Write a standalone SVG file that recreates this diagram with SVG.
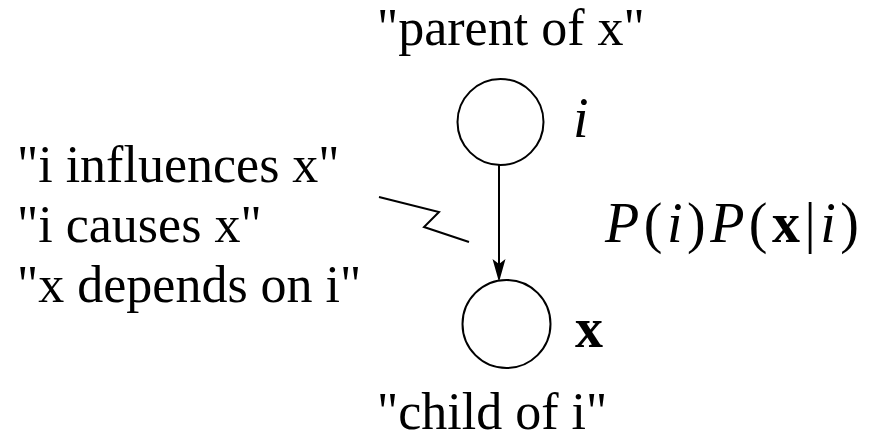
<svg xmlns="http://www.w3.org/2000/svg" width="872" height="441" viewBox="0 0 872 441">
<style>
.t{font-family:"Liberation Serif","Times New Roman",serif;font-size:52px;fill:#000}
.m{font-family:"Liberation Serif","Times New Roman",serif;font-size:56px;fill:#000;font-style:italic}
.b{font-style:normal;font-weight:bold}
.r{font-style:normal}
.node{fill:#fff;stroke:#000;stroke-width:2}
.edge{fill:none;stroke:#000;stroke-width:2}
</style>
<rect width="872" height="441" fill="#fff"/>
<g id="connectors">
<line class="edge" x1="499" y1="165" x2="499" y2="264"/>
<path d="M499,282 L492.5,259 L499,264 L505.5,259 Z" fill="#000"/>
<polyline class="edge" points="379,197 439,212 424,227 469,242"/>
</g>
<g id="node-i">
<circle class="node" cx="500.5" cy="122" r="43"/>
<text class="m" x="573" y="137">i</text>
</g>
<g id="node-x">
<circle class="node" cx="506.5" cy="324" r="44"/>
<text class="m b" x="575" y="347">x</text>
</g>
<g id="labels">
<text class="t" x="377" y="45">"parent of x"</text>
<text class="t" x="377" y="429">"child of i"</text>
<text class="t" x="17" y="182">"i influences x"</text>
<text class="t" x="17" y="242">"i causes x"</text>
<text class="t" x="17" y="302">"x depends on i"</text>
<text class="m" x="605" y="242" textLength="254" lengthAdjust="spacing">P<tspan class="r">(</tspan>i<tspan class="r">)</tspan>P<tspan class="r">(</tspan><tspan class="b">x</tspan><tspan class="r">|</tspan>i<tspan class="r">)</tspan></text>
</g>
</svg>
